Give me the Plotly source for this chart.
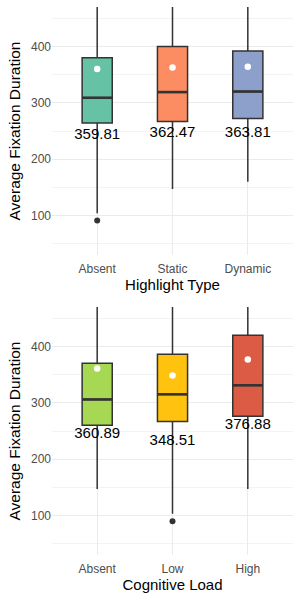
import plotly.graph_objects as go
from plotly.subplots import make_subplots

# Highlight Type panel
hl_cats = ["Absent", "Static", "Dynamic"]
hl_q1 = [264, 267, 272]
hl_median = [309, 319, 320]
hl_q3 = [380, 400, 392]
hl_low = [104, 147, 160]
hl_high = [520, 520, 520]
hl_mean = [359.81, 362.47, 363.81]
hl_outliers = [[91], [], []]
hl_colors = ["#66C2A5", "#FC8D62", "#8DA0CB"]

# Cognitive Load panel
cl_cats = ["Absent", "Low", "High"]
cl_q1 = [260, 267, 276]
cl_median = [306, 315, 331]
cl_q3 = [370, 386, 420]
cl_low = [147, 103, 147]
cl_high = [520, 520, 520]
cl_mean = [360.89, 348.51, 376.88]
cl_outliers = [[], [90], []]
cl_colors = ["#A6D854", "#FFC30F", "#DC5B45"]

LABEL_OFFSET = 117
BOX_W = 0.4
FONT = "Liberation Sans, Arial, sans-serif"

fig = make_subplots(rows=2, cols=1, vertical_spacing=0.0949)

def add_panel(row, cats, q1, med, q3, low, high, mean, outl, colors):
    for i in range(len(cats)):
        fig.add_trace(go.Box(
            x=[i], q1=[q1[i]], median=[med[i]], q3=[q3[i]],
            lowerfence=[low[i]], upperfence=[high[i]],
            width=BOX_W, whiskerwidth=0, fillcolor=colors[i],
            line=dict(color="#333333", width=1.5), boxpoints=False,
            showlegend=False, hoverinfo="skip"), row=row, col=1)
        fig.add_trace(go.Scatter(
            x=[i - BOX_W / 2, i + BOX_W / 2], y=[med[i], med[i]], mode="lines",
            line=dict(color="#333333", width=2.6), showlegend=False, hoverinfo="skip"),
            row=row, col=1)
        if outl[i]:
            fig.add_trace(go.Scatter(
                x=[i] * len(outl[i]), y=outl[i], mode="markers",
                marker=dict(color="#333333", size=6), showlegend=False),
                row=row, col=1)
    xs = list(range(len(cats)))
    fig.add_trace(go.Scatter(
        x=xs, y=mean, mode="markers",
        marker=dict(color="white", size=6.5), showlegend=False), row=row, col=1)
    fig.add_trace(go.Scatter(
        x=xs, y=[m - LABEL_OFFSET for m in mean], mode="text",
        text=[f"{m:.2f}" for m in mean],
        textfont=dict(family=FONT, size=15, color="black"),
        textposition="middle center", showlegend=False), row=row, col=1)

add_panel(1, hl_cats, hl_q1, hl_median, hl_q3, hl_low, hl_high, hl_mean, hl_outliers, hl_colors)
add_panel(2, cl_cats, cl_q1, cl_median, cl_q3, cl_low, cl_high, cl_mean, cl_outliers, cl_colors)

for row, cats, title in [(1, hl_cats, "Highlight Type"), (2, cl_cats, "Cognitive Load")]:
    fig.update_xaxes(
        range=[-0.6, 2.6], tickvals=list(range(len(cats))), ticktext=cats,
        showgrid=True, gridcolor="#EBEBEB", gridwidth=1, zeroline=False,
        ticks="outside", ticklen=3, tickcolor="rgba(0,0,0,0)", automargin=False,
        tickfont=dict(family=FONT, size=12, color="#4D4D4D"),
        title=dict(text=title, font=dict(family=FONT, size=15, color="black"), standoff=4),
        row=row, col=1)
    fig.update_yaxes(
        range=[30, 470], tickvals=[100, 200, 300, 400],
        showgrid=True, gridcolor="#EBEBEB", gridwidth=1.2, zeroline=False,
        minor=dict(tickvals=[50, 150, 250, 350, 450], showgrid=True,
                   gridcolor="#F3F3F3", gridwidth=0.6),
        ticks="", automargin=False,
        tickfont=dict(family=FONT, size=12, color="#4D4D4D"),
        title=dict(text="Average Fixation Duration", font=dict(family=FONT, size=15.5, color="black"), standoff=6),
        row=row, col=1)

fig.update_layout(
    width=300, height=600,
    margin=dict(l=52, r=7, t=7, b=45),
    plot_bgcolor="white", paper_bgcolor="white",
    font=dict(family=FONT),
)

fig.write_html("out.html", config={"displayModeBar": False},
               post_script="document.body.style.margin='0';")
